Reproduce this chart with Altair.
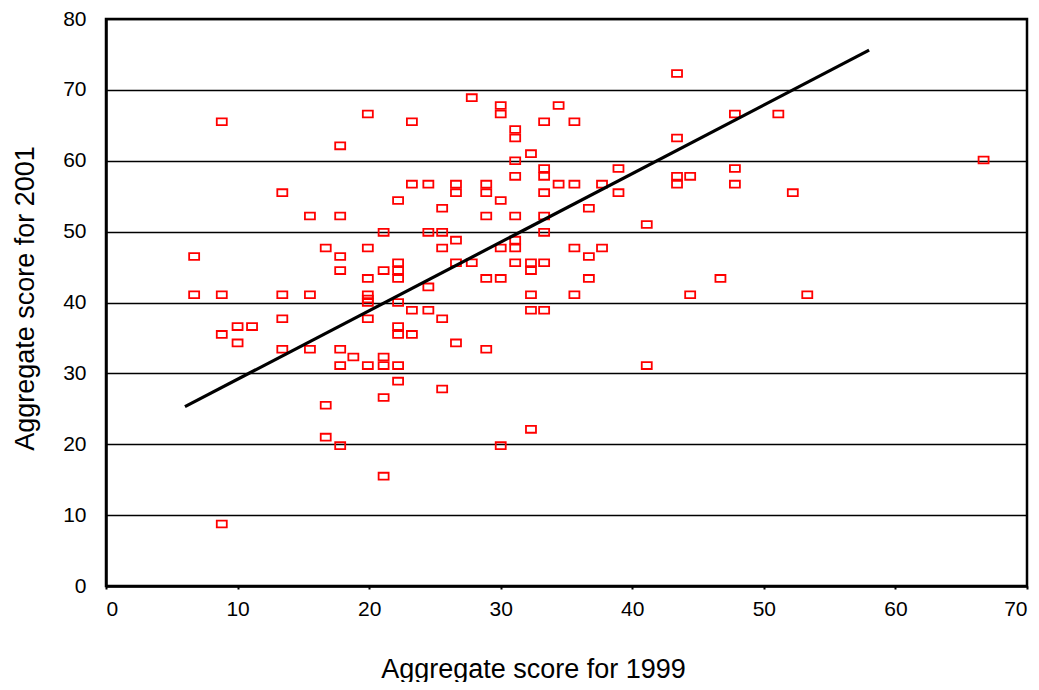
import altair as alt
import pandas as pd

score_1999 = [
    8.8, 19.9, 23.25, 17.8, 23.25, 24.5, 13.4, 22.2, 15.5, 17.8, 21.1, 24.5,
    6.7, 16.7, 17.8, 19.9, 22.2, 17.8, 21.1, 22.2, 19.9, 22.2, 24.5, 6.7,
    8.8, 13.4, 15.5, 19.9, 19.9, 19.9, 22.2, 23.25, 24.5, 8.8, 10.0, 11.1,
    10.0, 13.4, 19.9, 22.2, 22.2, 23.25, 13.4, 15.5, 17.8, 18.8, 21.1, 17.8,
    19.9, 21.1, 22.2, 22.2, 21.1, 16.7, 16.7, 17.8, 21.1, 8.8,
    43.4, 27.8, 30.0, 30.0, 34.4, 33.3, 35.6, 47.8, 31.1, 31.1, 43.4, 32.3,
    31.1, 33.3, 33.3, 31.1, 38.95, 47.8, 43.4, 44.4, 43.4, 47.8, 26.6, 28.9,
    34.4, 35.6, 37.7, 26.6, 28.9, 33.3, 38.95, 30.0, 25.55, 36.7, 28.9, 31.1,
    33.3, 41.1, 25.55, 33.3, 26.6, 31.1, 25.55, 30.0, 31.1, 35.6, 37.7, 36.7,
    26.6, 27.8, 31.1, 32.3, 33.3, 32.3, 28.9, 30.0, 36.7, 46.7, 32.3, 35.6,
    44.4,
    32.3, 33.3, 25.55, 26.6, 28.9, 41.1, 25.55, 32.3, 30.0,
    51.1, 66.7, 52.2, 53.3,
]
score_2001 = [
    65.5, 66.6, 65.5, 62.1, 56.7, 56.7, 55.5, 54.4, 52.2, 52.2, 49.9, 49.9,
    46.5, 47.7, 46.5, 47.7, 45.6, 44.5, 44.5, 44.5, 43.4, 43.4, 42.2, 41.1,
    41.1, 41.1, 41.1, 41.1, 40.5, 40.0, 40.0, 38.9, 38.9, 35.5, 36.6, 36.6,
    34.3, 37.7, 37.7, 36.6, 35.5, 35.5, 33.4, 33.4, 33.4, 32.3, 32.3, 31.1,
    31.1, 31.1, 31.1, 28.9, 26.6, 25.5, 21.0, 19.8, 15.5, 8.75,
    72.3, 68.9, 67.8, 66.6, 67.8, 65.5, 65.5, 66.6, 64.4, 63.2, 63.2, 61.0,
    60.0, 58.9, 57.8, 57.8, 58.9, 58.9, 57.8, 57.8, 56.7, 56.7, 56.7, 56.7,
    56.7, 56.7, 56.7, 55.5, 55.5, 55.5, 55.5, 54.4, 53.3, 53.3, 52.2, 52.2,
    52.2, 51.0, 49.9, 49.9, 48.8, 48.8, 47.7, 47.7, 47.7, 47.7, 47.7, 46.5,
    45.6, 45.6, 45.6, 45.6, 45.6, 44.5, 43.4, 43.4, 43.4, 43.4, 41.1, 41.1,
    41.1,
    38.9, 38.9, 37.7, 34.3, 33.4, 31.1, 27.8, 22.1, 19.8,
    66.6, 60.1, 55.5, 41.1,
]

trend_x = [6.0, 58.0]
trend_y = [25.3, 75.6]

pts = pd.DataFrame({"x": score_1999, "y": score_2001})
trend = pd.DataFrame({"x": trend_x, "y": trend_y})

FONT = "Liberation Sans"

xscale = alt.Scale(domain=[0, 70], nice=False, zero=True)
yscale = alt.Scale(domain=[0, 80], nice=False, zero=True)

xaxis = alt.Axis(
    title="Aggregate score for 1999",
    values=[0, 10, 20, 30, 40, 50, 60, 70],
    grid=False,
    domainColor="black", domainWidth=2.5,
    ticks=True, tickSize=3, tickColor="black", tickWidth=2,
    labelFont=FONT, labelFontSize=21, labelColor="black", labelPadding=9,
    titleFont=FONT, titleFontSize=27, titleFontWeight="normal", titleColor="black",
    titleX=427, titleY=91, titleAnchor="middle", titleAlign="center",
    titleBaseline="alphabetic",
)
yaxis = alt.Axis(
    title="Aggregate score for 2001",
    values=[0, 10, 20, 30, 40, 50, 60, 70, 80],
    grid=True, gridColor="black", gridWidth=1.6, gridOpacity=1,
    domainColor="black", domainWidth=2.5,
    ticks=False,
    labelFont=FONT, labelFontSize=21, labelColor="black", labelPadding=20,
    titleFont=FONT, titleFontSize=27, titleFontWeight="normal", titleColor="black",
    titleAngle=-90, titleX=-73, titleY=279, titleAlign="center",
    titleBaseline="alphabetic",
)

points = alt.Chart(pts).mark_point(
    shape="M-1.25,-0.85L1.25,-0.85L1.25,0.85L-1.25,0.85Z",
    filled=False, color="#ff0000", strokeWidth=1.8, size=64, opacity=1,
).encode(
    x=alt.X("x:Q", scale=xscale, axis=xaxis),
    y=alt.Y("y:Q", scale=yscale, axis=yaxis),
)

line = alt.Chart(trend).mark_line(color="black", strokeWidth=3.2).encode(
    x=alt.X("x:Q", scale=xscale),
    y=alt.Y("y:Q", scale=yscale),
)

chart = alt.layer(points, line).properties(
    width=921, height=567,
    autosize=alt.AutoSizeParams(type="none"),
    padding={"left": 98, "top": 11, "right": 4, "bottom": 96},
    background="white",
).configure_view(stroke="black", strokeWidth=2.5)

chart.save("out.html", embed_options={"renderer": "svg", "actions": False})
